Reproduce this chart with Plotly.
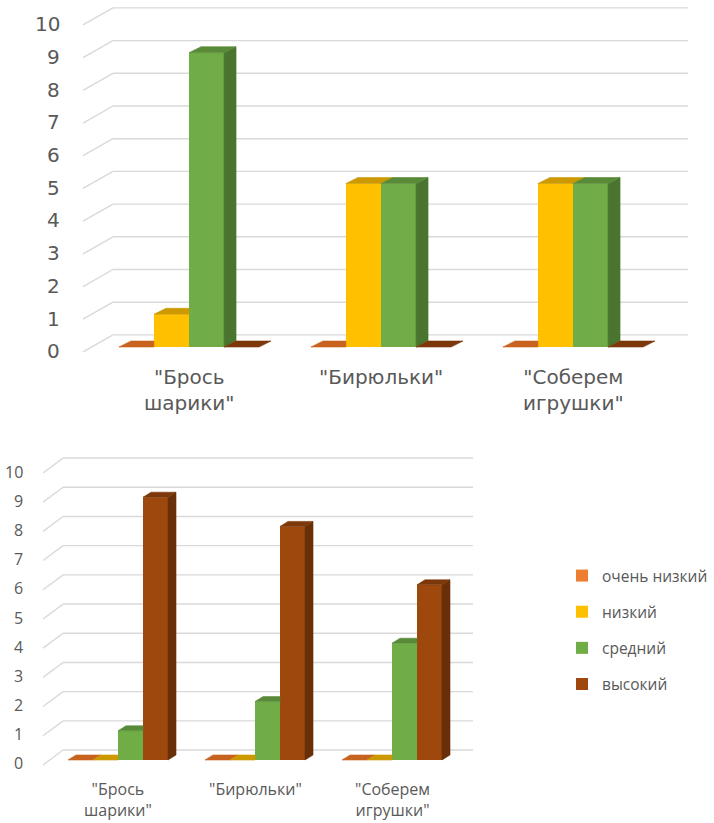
import plotly.graph_objects as go

# ---- data -------------------------------------------------------------
categories = ['"Брось<br>шарики"', '"Бирюльки"', '"Соберем<br>игрушки"']
series_names = ["очень низкий", "низкий", "средний", "высокий"]

# first diagnostic
top_very_low = [0, 0, 0]
top_low = [1, 5, 5]
top_mid = [9, 5, 5]
top_high = [0, 0, 0]

# second diagnostic
bot_very_low = [0, 0, 0]
bot_low = [0, 0, 0]
bot_mid = [1, 2, 4]
bot_high = [9, 8, 6]

y_ticks = list(range(0, 11))

# ---- style --------------------------------------------------------------
front_colors = ["#ED7D31", "#FFC000", "#70AD47", "#9E480E"]
top_colors = ["#C8631F", "#CC9A00", "#588A37", "#7C380A"]
side_colors = ["#A9531A", "#AD8200", "#4A752E", "#692F08"]
text_color = "#595959"
grid_color = "#D9D9D9"

W, H = 714, 823
GROUP = 0.73           # share of a category slot occupied by one cluster
BAR_W = GROUP / 4


def add_chart(fig, series, xa, ya, depth, wall, show_legend):
    """Draw one pseudo-3D clustered column chart on axes (xa, ya)."""
    dx, dy = depth
    xs = list(range(len(categories)))

    # back wall grid + diagonal side-wall lines
    fx, wx0, wx1, dfy, dwy = wall
    for v in y_ticks:
        fig.add_shape(type="line", xref=xa, yref=ya, x0=fx, y0=v + dfy,
                      x1=wx0, y1=v + dwy, line=dict(color=grid_color, width=1.4),
                      layer="below")
        fig.add_shape(type="line", xref=xa, yref=ya, x0=wx0, y0=v + dwy,
                      x1=wx1, y1=v + dwy, line=dict(color=grid_color, width=1.4),
                      layer="below")

    # front faces as grouped bars
    for j, (name, vals) in enumerate(zip(series_names, series)):
        fig.add_trace(go.Bar(
            x=xs, y=vals, name=name, xaxis=xa, yaxis=ya,
            marker=dict(color=front_colors[j], line=dict(width=0)),
            offsetgroup=str(j), legendgroup=name, showlegend=show_legend,
            hoverinfo="skip",
        ))

    # top and right faces
    for k in xs:
        for j, vals in enumerate(series):
            v = vals[k]
            x0 = k - GROUP / 2 + j * BAR_W
            x1 = x0 + BAR_W
            nxt = series[j + 1][k] if j + 1 < len(series) else 0
            # right face, only the part rising above the neighbouring bar
            if v > nxt:
                px = [x1, x1 + dx, x1 + dx, x1, x1]
                py = [nxt, nxt + dy, v + dy, v, nxt]
                fig.add_trace(go.Scatter(
                    x=px, y=py, xaxis=xa, yaxis=ya, mode="lines", fill="toself",
                    fillcolor=side_colors[j], line=dict(width=0.6, color=side_colors[j]),
                    showlegend=False, hoverinfo="skip"))
            # top face, cut off where the next, taller bar hides it
            if j + 1 < len(series) and nxt >= v + dy:
                px = [x0, x1, x1, x0 + dx, x0]
            else:
                px = [x0, x1, x1 + dx, x0 + dx, x0]
            py = [v, v, v + dy, v + dy, v]
            fig.add_trace(go.Scatter(
                x=px, y=py, xaxis=xa, yaxis=ya, mode="lines", fill="toself",
                fillcolor=top_colors[j], line=dict(width=0.6, color=top_colors[j]),
                showlegend=False, hoverinfo="skip"))


fig = go.Figure()

# upper chart: 192 px per category, 32.7 px per unit
add_chart(fig, [top_very_low, top_low, top_mid, top_high], "x", "y",
          depth=(0.0625, 0.183),
          wall=(-0.552, -0.396, 2.599, -0.15, 0.37),
          show_legend=False)
# lower chart: 137 px per category, 29.2 px per unit
add_chart(fig, [bot_very_low, bot_low, bot_mid, bot_high], "x2", "y2",
          depth=(0.0584, 0.171),
          wall=(-0.547, -0.401, 2.591, -0.17, 0.34),
          show_legend=True)

# value labels on the front edge
for v in y_ticks:
    fig.add_annotation(x=-0.661, y=v - 0.13, xref="x", yref="y", text=str(v),
                       showarrow=False, xanchor="right", yanchor="middle",
                       font=dict(size=20, color=text_color, family="DejaVu Sans"))
    fig.add_annotation(x=-0.679, y=v - 0.12, xref="x2", yref="y2", text=str(v),
                       showarrow=False, xanchor="right", yanchor="middle",
                       font=dict(size=16, color=text_color, family="Open Sans"))

# category labels
for k, c in enumerate(categories):
    fig.add_annotation(x=k, y=-0.48, xref="x", yref="y", text=c, showarrow=False,
                       xanchor="center", yanchor="top",
                       font=dict(size=20, color=text_color, family="DejaVu Sans"))
    fig.add_annotation(x=k, y=-0.55, xref="x2", yref="y2", text=c, showarrow=False,
                       xanchor="center", yanchor="top",
                       font=dict(size=16, color=text_color, family="Open Sans"))

fig.update_layout(
    width=W, height=H,
    margin=dict(l=0, r=0, t=0, b=0),
    paper_bgcolor="white", plot_bgcolor="white",
    barmode="group", bargap=1 - GROUP, bargroupgap=0,
    showlegend=True,
    legend=dict(x=562 / W, y=1 - 559 / H, xanchor="left", yanchor="top",
                traceorder="grouped", tracegroupgap=13,
                font=dict(size=15.5, color=text_color, family="Open Sans"),
                bgcolor="rgba(0,0,0,0)"),
    xaxis=dict(domain=[0, 1], range=[-189 / 192, (W - 189) / 192], visible=False,
               fixedrange=True),
    yaxis=dict(domain=[1 - 420 / H, 1], range=[-2.232, 10.612], visible=False,
               fixedrange=True),
    xaxis2=dict(domain=[0, 1], range=[-118 / 137, (W - 118) / 137], visible=False,
                fixedrange=True, anchor="y2"),
    yaxis2=dict(domain=[0, 383 / H], range=[-2.158, 10.959], visible=False,
                fixedrange=True, anchor="x2"),
)

fig.write_html("out.html")
